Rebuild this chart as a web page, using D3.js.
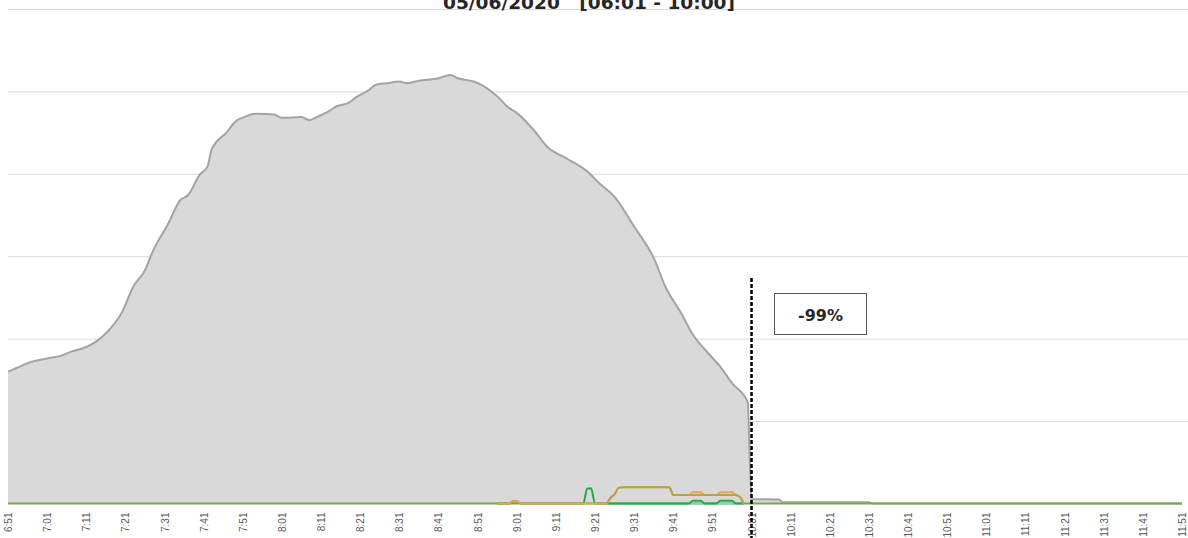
<!DOCTYPE html>
<html>
<head>
<meta charset="utf-8">
<script src="https://cdn.jsdelivr.net/npm/d3@7"></script>
<style>
  html, body { margin: 0; padding: 0; background: #ffffff; }
  svg { display: block; }
</style>
</head>
<body>
<svg id="chart" width="1188" height="538"></svg>
<script>
// ---------------- DATA ----------------
const titleText = "05/06/2020   [06:01 - 10:00]";
const annotationText = "-99%";
const markerTime = "10:01";

const tickLabels = ["6:51","7:01","7:11","7:21","7:31","7:41","7:51","8:01","8:11","8:21",
  "8:31","8:41","8:51","9:01","9:11","9:21","9:31","9:41","9:51","10:01",
  "10:11","10:21","10:31","10:41","10:51","11:01","11:11","11:21","11:31","11:41","11:51"];

const gridValues = [1000, 2000, 3000, 4000, 5000, 6000];

// main (grey area) series: readings at sampled minutes
const grayTimes = ["6:51","6:54","6:57","7:01","7:05","7:07","7:10","7:13","7:15","7:18",
  "7:20","7:23","7:26","7:28","7:32","7:35","7:37","7:40","7:42","7:43",
  "7:47","7:49","7:52","7:53","7:55","7:59","8:01","8:06","8:08","8:10",
  "8:13","8:15","8:18","8:20","8:23","8:25","8:28","8:31","8:33","8:36",
  "8:41","8:44","8:46","8:50","8:52","8:56","8:59","9:01","9:05","9:09",
  "9:14","9:19","9:22","9:26","9:31","9:36","9:39","9:43","9:46","9:50",
  "9:53","9:56","10:00","10:01","10:08","10:09","10:31","10:32","11:51"];
const grayValues = [1600,1660,1720,1760,1800,1840,1880,1950,2020,2170,
  2310,2630,2830,3060,3400,3680,3740,3990,4090,4290,
  4510,4630,4700,4720,4730,4720,4680,4690,4650,4690,
  4760,4820,4860,4930,5010,5080,5100,5120,5100,5130,
  5160,5200,5160,5120,5080,4940,4800,4740,4550,4320,
  4180,4030,3890,3720,3360,2980,2630,2310,2050,1820,
  1660,1460,1235,55,50,15,15,0,0];

// baseline series (flat at zero over the full range)
const baseTimes = ["6:51","11:51"];
const baseValues = [0, 0];

// teal series
const tealTimes = ["9:25","9:59"];
const tealValues = [0, 0];

// green series
const greenTimes = ["8:56","8:59","9:00","9:01","9:02","9:18","9:19","9:20","9:21",
  "9:45","9:46","9:47","9:48","9:49","9:52","9:53","9:54","9:55","9:56","9:57","9:59"];
const greenValues = [0,0,25,25,0,0,180,185,0,
  0,34,34,34,0,0,34,34,34,34,0,0];

// orange series
const orangeTimes = ["8:56","8:59","9:00","9:01","9:02","9:24","9:25","9:26","9:27","9:28",
  "9:40","9:41","9:45","9:46","9:48","9:49","9:52","9:53","9:56","9:57","9:58","9:59"];
const orangeValues = [0,0,28,28,0,0,70,110,190,197,
  197,103,103,136,136,103,103,136,136,103,83,0];

// olive series
const oliveTimes = ["9:24","9:25","9:26","9:27","9:28","9:40","9:41","9:57","9:58","9:59"];
const oliveValues = [0,70,110,190,197,197,103,103,83,0];

// ---------------- CHART ----------------
const W = 1188, H = 538;
const svg = d3.select("#chart");
const startMin = 6 * 60 + 51;
const toMin = s => { const [h, m] = s.split(":").map(Number); return h * 60 + m - startMin; };
const zip = (ts, vs) => ts.map((t, i) => ({ m: toMin(t), v: vs[i] }));

const x = d3.scaleLinear().domain([0, 300]).range([8, 1182]);
const y = d3.scaleLinear().domain([0, 6000]).range([503.5, 9]);

// gridlines
const grid = svg.append("g").attr("transform", "translate(8,0)")
  .call(d3.axisLeft(y).tickValues(gridValues).tickSize(-(W - 8)).tickFormat(""));
grid.select(".domain").remove();
grid.selectAll(".tick line").attr("stroke", "#d9d9d9").attr("stroke-width", 1);

// title
svg.append("text")
  .attr("x", 589).attr("y", 9)
  .attr("text-anchor", "middle")
  .attr("font-family", "DejaVu Sans, Verdana, sans-serif")
  .attr("font-weight", "bold")
  .attr("font-size", 18)
  .attr("fill", "#262626")
  .style("white-space", "pre")
  .attr("textLength", 292)
  .attr("lengthAdjust", "spacingAndGlyphs")
  .text(titleText);

// grey area
const grayData = zip(grayTimes, grayValues);
svg.append("path").datum(grayData)
  .attr("d", d3.area().x(d => x(d.m)).y0(y(0)).y1(d => y(d.v)).curve(d3.curveMonotoneX))
  .attr("fill", "#d9d9d9");
svg.append("path").datum(grayData)
  .attr("d", d3.line().x(d => x(d.m)).y(d => y(d.v)).curve(d3.curveMonotoneX))
  .attr("fill", "none").attr("stroke", "#a3a3a3").attr("stroke-width", 2);

const lineGen = d3.line().x(d => x(d.m)).y(d => y(d.v)).curve(d3.curveMonotoneX);
function drawLine(ts, vs, color, w) {
  svg.append("path").datum(zip(ts, vs))
    .attr("d", lineGen).attr("fill", "none")
    .attr("stroke", color).attr("stroke-width", w)
    .attr("stroke-linejoin", "round");
}
drawLine(baseTimes, baseValues, "#78a94e", 2);
drawLine(tealTimes, tealValues, "#86d3bb", 2);
drawLine(greenTimes, greenValues, "#22aa48", 2);
drawLine(orangeTimes, orangeValues, "#f0a04e", 2);
drawLine(oliveTimes, oliveValues, "#b2a54a", 2);

// x axis labels
const xAxis = svg.append("g").attr("transform", "translate(0,503.5)")
  .call(d3.axisBottom(x).tickValues(tickLabels.map(toMin)).tickSize(0)
    .tickFormat((d, i) => tickLabels[i]));
xAxis.select(".domain").remove();
xAxis.selectAll(".tick line").remove();
xAxis.selectAll(".tick text")
  .attr("transform", "rotate(-90)")
  .attr("x", -9).attr("y", 3.5).attr("dy", 0)
  .attr("text-anchor", "end")
  .attr("font-family", "Liberation Sans, Arial, sans-serif")
  .attr("font-size", 10)
  .attr("fill", "#595959");

// vertical dashed marker
const mx = x(toMin(markerTime));
svg.append("line")
  .attr("x1", mx).attr("x2", mx).attr("y1", 278).attr("y2", H)
  .attr("stroke", "#000").attr("stroke-width", 2.5).attr("stroke-dasharray", "4,2");

// annotation box
svg.append("rect")
  .attr("x", 774.5).attr("y", 293.5).attr("width", 92).attr("height", 41)
  .attr("fill", "#fff").attr("stroke", "#595959").attr("stroke-width", 1);
svg.append("text")
  .attr("x", 820.5).attr("y", 320.5)
  .attr("text-anchor", "middle")
  .attr("font-family", "DejaVu Sans, Verdana, sans-serif")
  .attr("font-weight", "bold")
  .attr("font-size", 16)
  .attr("fill", "#262626")
  .text(annotationText);
</script>
</body>
</html>
